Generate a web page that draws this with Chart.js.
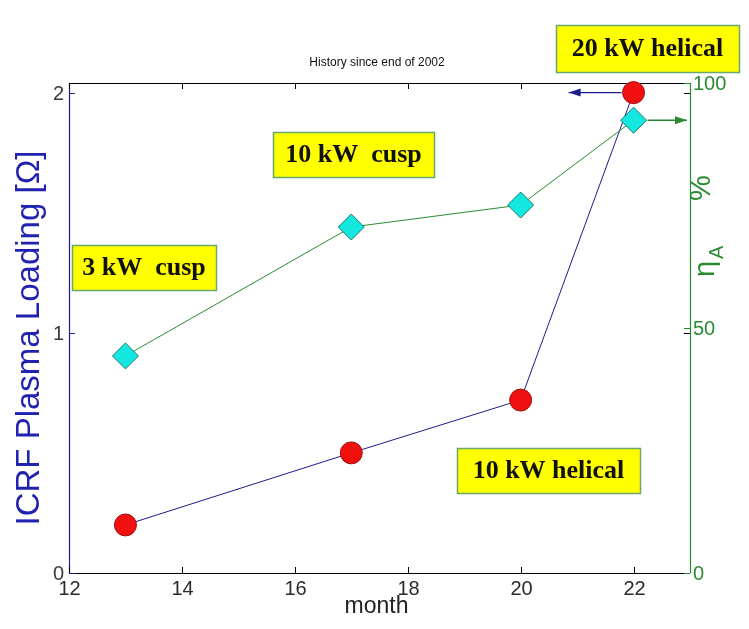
<!DOCTYPE html>
<html>
<head>
<meta charset="utf-8">
<script src="https://cdn.jsdelivr.net/npm/chart.js@4/dist/chart.umd.min.js"></script>
<style>
  html, body { margin: 0; padding: 0; background: #ffffff; }
  #wrap { width: 749px; height: 629px; }
</style>
</head>
<body>
<div id="wrap"><canvas id="c" width="749" height="629"></canvas></div>
<script>
// ICRF plasma loading and antenna efficiency history
const months = [13, 17, 20, 22];
const plasmaLoading = [0.2, 0.5, 0.72, 2.0];      // Ohm, left axis
const efficiency = [44.3, 70.6, 75.1, 92.4];      // eta_A %, right axis
const xTicks = [12, 14, 16, 18, 20, 22];
const leftTicks = [0, 1, 2];
const rightTicks = [0, 50, 100];
const notes = [
  { text: '3 kW  cusp',    box: [72, 245, 216, 290] },
  { text: '10 kW  cusp',   box: [273, 132, 434, 177] },
  { text: '20 kW helical', box: [556, 25, 739, 72] },
  { text: '10 kW helical', box: [457, 448, 640, 493] }
];

const NAVY = '#1c1c8c';
const GREEN = '#2a8a32';

const axesPlugin = {
  id: 'axesPlugin',
  beforeDatasetsDraw(chart) {
    const ctx = chart.ctx;
    const a = chart.chartArea;
    const x = chart.scales.x, yl = chart.scales.yL, yr = chart.scales.yR;
    ctx.save();
    // frame
    ctx.lineWidth = 1.2;
    ctx.strokeStyle = '#000';
    ctx.beginPath();
    ctx.moveTo(a.left, a.top + 0.5); ctx.lineTo(a.right, a.top + 0.5);
    ctx.moveTo(a.left, a.bottom + 0.5); ctx.lineTo(a.right, a.bottom + 0.5);
    ctx.stroke();
    ctx.strokeStyle = NAVY;
    ctx.beginPath(); ctx.moveTo(a.left + 0.5, a.top); ctx.lineTo(a.left + 0.5, a.bottom); ctx.stroke();
    ctx.strokeStyle = GREEN;
    ctx.beginPath(); ctx.moveTo(a.right + 0.5, a.top); ctx.lineTo(a.right + 0.5, a.bottom); ctx.stroke();

    // x ticks (inside, top and bottom)
    ctx.strokeStyle = '#000';
    ctx.lineWidth = 1;
    ctx.fillStyle = '#2a2a2a';
    ctx.font = '20px "Liberation Sans", Arial, sans-serif';
    ctx.textAlign = 'center';
    ctx.textBaseline = 'top';
    xTicks.forEach(v => {
      const px = Math.round(x.getPixelForValue(v)) + 0.5;
      ctx.beginPath();
      ctx.moveTo(px, a.bottom); ctx.lineTo(px, a.bottom - 6);
      ctx.moveTo(px, a.top); ctx.lineTo(px, a.top + 6);
      ctx.stroke();
      ctx.fillText(String(v), px, a.bottom + 6);
    });

    // left ticks
    ctx.fillStyle = '#3a3a3a';
    ctx.textAlign = 'right';
    ctx.textBaseline = 'middle';
    leftTicks.forEach(v => {
      const py = Math.round(yl.getPixelForValue(v)) + 0.5;
      ctx.strokeStyle = NAVY;
      ctx.beginPath(); ctx.moveTo(a.left, py); ctx.lineTo(a.left + 6, py); ctx.stroke();
      ctx.strokeStyle = '#000';
      ctx.beginPath(); ctx.moveTo(a.right, py); ctx.lineTo(a.right - 6, py); ctx.stroke();
      ctx.fillText(String(v), a.left - 5, py + 1);
    });

    // right ticks
    ctx.strokeStyle = GREEN;
    ctx.fillStyle = GREEN;
    ctx.textAlign = 'left';
    rightTicks.forEach(v => {
      const py = Math.round(yr.getPixelForValue(v)) + 0.5;
      ctx.beginPath(); ctx.moveTo(a.right, py); ctx.lineTo(a.right - 6, py); ctx.stroke();
      ctx.fillText(String(v), a.right + 3, py + 1);
    });

    // axis titles
    ctx.fillStyle = '#222';
    ctx.textAlign = 'center';
    ctx.textBaseline = 'middle';
    ctx.font = '23px "Liberation Sans", Arial, sans-serif';
    ctx.fillText('month', (a.left + a.right) / 2 - 3, 607);

    ctx.font = '12px "Liberation Sans", Arial, sans-serif';
    ctx.fillStyle = '#111';
    ctx.fillText('History since end of 2002', 377, 63);

    ctx.save();
    ctx.translate(30, 338);
    ctx.rotate(-Math.PI / 2);
    ctx.fillStyle = '#2222b0';
    ctx.font = '33px "Liberation Sans", Arial, sans-serif';
    ctx.fillText('ICRF Plasma Loading [Ω]', 0, 0);
    ctx.restore();

    ctx.save();
    ctx.translate(714, 277);
    ctx.rotate(-Math.PI / 2);
    ctx.fillStyle = GREEN;
    ctx.textAlign = 'left';
    ctx.textBaseline = 'alphabetic';
    ctx.font = '29px "Liberation Sans", Arial, sans-serif';
    ctx.fillText('η', 0, 0);
    ctx.font = '20px "Liberation Sans", Arial, sans-serif';
    ctx.fillText('A', 18, 9);
    ctx.font = '29px "Liberation Sans", Arial, sans-serif';
    ctx.fillText('%', 76, -4);
    ctx.restore();

    ctx.restore();
  },
  afterDatasetsDraw(chart) {
    const ctx = chart.ctx;
    const a = chart.chartArea;
    const x = chart.scales.x, yl = chart.scales.yL, yr = chart.scales.yR;
    const last = months.length - 1;
    ctx.save();
    // arrows pointing to the axis each series belongs to
    const arrow = (x0, x1, y, color) => {
      ctx.strokeStyle = color; ctx.fillStyle = color; ctx.lineWidth = 1.3;
      ctx.beginPath(); ctx.moveTo(x0, y); ctx.lineTo(x1, y); ctx.stroke();
      const d = Math.sign(x1 - x0);
      ctx.beginPath();
      ctx.moveTo(x1, y); ctx.lineTo(x1 - d * 12, y - 4); ctx.lineTo(x1 - d * 12, y + 4);
      ctx.closePath(); ctx.fill();
    };
    const bx = x.getPixelForValue(months[last]);
    const by = yl.getPixelForValue(plasmaLoading[last]);
    arrow(bx - 12, x.getPixelForValue(20.85), by, NAVY);
    const gy = yr.getPixelForValue(efficiency[last]);
    arrow(bx + 14, a.right - 3, gy, GREEN);

    // labelled boxes
    notes.forEach(n => {
      const [l, t, r, b] = n.box;
      ctx.fillStyle = '#ffff00';
      ctx.fillRect(l, t, r - l, b - t);
      ctx.strokeStyle = '#6aa86a';
      ctx.lineWidth = 1.5;
      ctx.strokeRect(l + 0.5, t + 0.5, r - l, b - t);
      ctx.fillStyle = '#111';
      ctx.font = 'bold 26px "Liberation Serif", "Times New Roman", serif';
      ctx.textAlign = 'center';
      ctx.textBaseline = 'middle';
      ctx.fillText(n.text, (l + r) / 2, (t + b) / 2 + 1);
    });
    ctx.restore();
  }
};

new Chart(document.getElementById('c'), {
  type: 'scatter',
  data: {
    datasets: [
      {
        label: 'efficiency',
        data: months.map((m, i) => ({ x: m, y: efficiency[i] })),
        yAxisID: 'yR',
        showLine: true,
        borderColor: GREEN,
        borderWidth: 1,
        pointStyle: 'rectRot',
        pointRadius: 13,
        pointBackgroundColor: '#14e6e0',
        pointBorderColor: '#1a7a6a',
        pointBorderWidth: 1,
        clip: false
      },
      {
        label: 'loading',
        data: months.map((m, i) => ({ x: m, y: plasmaLoading[i] })),
        yAxisID: 'yL',
        showLine: true,
        borderColor: NAVY,
        borderWidth: 1,
        pointStyle: 'circle',
        pointRadius: 11,
        pointBackgroundColor: '#f01010',
        pointBorderColor: '#a01010',
        pointBorderWidth: 1,
        clip: false
      }
    ]
  },
  options: {
    responsive: false,
    animation: false,
    layout: { padding: { left: 69, right: 59, top: 83, bottom: 56 } },
    plugins: { legend: { display: false }, tooltip: { enabled: false } },
    scales: {
      x: { type: 'linear', min: 12, max: 23, display: false },
      yL: { type: 'linear', position: 'left', min: 0, max: 2.04, display: false },
      yR: { type: 'linear', position: 'right', min: 0, max: 100, display: false }
    }
  },
  plugins: [axesPlugin]
});
</script>
</body>
</html>
